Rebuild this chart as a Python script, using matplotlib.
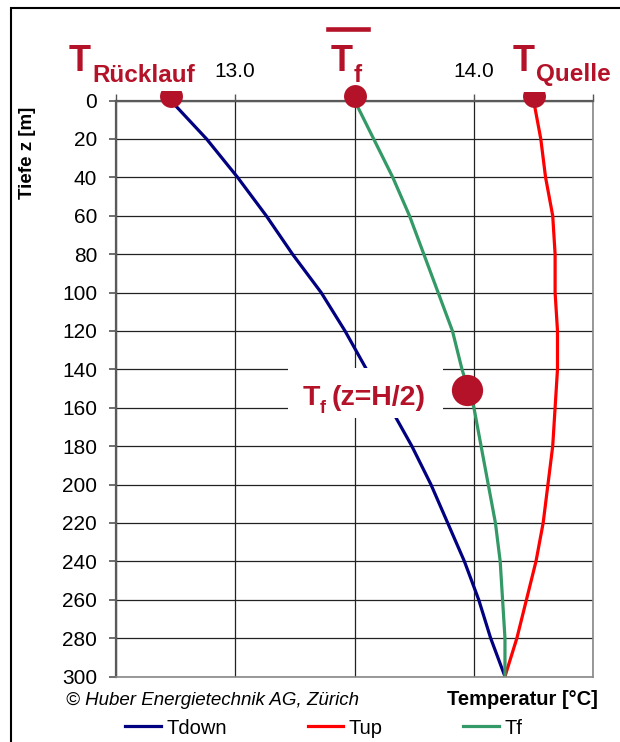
import matplotlib.pyplot as plt
from matplotlib.patches import Rectangle
from matplotlib.lines import Line2D

plt.rcParams['font.family'] = ['Liberation Sans', 'DejaVu Sans']

# depth profile (m) and temperatures (°C)
depth = [0, 20, 40, 60, 80, 100, 120, 140, 160, 180, 200, 220, 240, 260, 280, 300]
t_down = [12.73, 12.88, 13.01, 13.13, 13.24, 13.36, 13.46, 13.55, 13.65, 13.74,
          13.82, 13.89, 13.96, 14.02, 14.07, 14.13]
t_up = [14.25, 14.28, 14.30, 14.33, 14.34, 14.34, 14.35, 14.35, 14.34, 14.33,
        14.31, 14.29, 14.26, 14.22, 14.18, 14.13]
t_f = [13.50, 13.58, 13.66, 13.73, 13.79, 13.85, 13.91, 13.95, 14.00, 14.03,
       14.06, 14.09, 14.11, 14.12, 14.13, 14.13]

# highlighted points
top_t = [12.73, 13.50, 14.25]
top_z = [-2.5, -2.5, -2.5]
mid_t = [13.97]
mid_z = [151]

x_ticks = [12.5, 13.0, 13.5, 14.0, 14.5]
x_ticklabels = ['', '13.0', '', '14.0', '']
y_ticks = list(range(0, 301, 20))

W, H = 620, 742
RED = '#B41228'


def fx(x):
    return x / W


def fy(y):
    return 1 - y / H


fig = plt.figure(figsize=(6.2, 7.42), dpi=100)
ax = fig.add_axes([fx(115.8), fy(676.5), fx(593.3) - fx(115.8), fy(100.5) - fy(676.5)])

ax.plot(t_down, depth, color='#000080', lw=2.3, label='Tdown', zorder=2)
ax.plot(t_up, depth, color='#FF0000', lw=2.3, label='Tup', zorder=2)
ax.plot(t_f, depth, color='#339966', lw=2.3, label='Tf', zorder=2)

ax.plot(top_t, top_z, 'o', color=RED, ms=16.5, mec='none', clip_on=False, zorder=4)
ax.plot(mid_t, mid_z, 'o', color=RED, ms=22.5, mec='none', clip_on=False, zorder=4)

ax.set_xlim(12.5, 14.5)
ax.set_ylim(300, 0)
ax.xaxis.tick_top()
ax.set_xticks(x_ticks)
ax.set_xticklabels(x_ticklabels)
ax.set_yticks(y_ticks)
ax.tick_params(axis='x', length=5, width=1, color='#555555', pad=9, labelsize=15)
ax.tick_params(axis='y', length=5, width=1.2, color='#555555', pad=8.5, labelsize=15)
ax.grid(True, color='#222222', lw=0.9)
ax.set_axisbelow(True)
for side in ['left', 'top']:
    ax.spines[side].set_color('#5a5a5a')
    ax.spines[side].set_linewidth(1.6)
for side in ['right', 'bottom']:
    ax.spines[side].set_color('#888888')
    ax.spines[side].set_linewidth(1.2)

# white label backgrounds (cover grid and marker tops like the original)
ax.add_patch(Rectangle((fx(288), fy(418)), fx(443) - fx(288), fy(368) - fy(418),
                       transform=fig.transFigure, facecolor='white', edgecolor='none',
                       clip_on=False, zorder=3))
ax.add_patch(Rectangle((fx(150), fy(90.7)), fx(196) - fx(150), fy(60) - fy(90.7),
                       transform=fig.transFigure, facecolor='white', edgecolor='none',
                       clip_on=False, zorder=5))
ax.add_patch(Rectangle((fx(512), fy(92.3)), fx(556) - fx(512), fy(60) - fy(92.3),
                       transform=fig.transFigure, facecolor='white', edgecolor='none',
                       clip_on=False, zorder=5))

# annotations
fig.text(fx(69), fy(70.7), 'T', color=RED, fontsize=26, fontweight='bold', va='baseline')
fig.text(fx(92), fy(81.5), 'Rücklauf', color=RED, fontsize=17.5, fontweight='bold', va='baseline')
fig.text(fx(331), fy(70.7), 'T', color=RED, fontsize=26, fontweight='bold', va='baseline')
fig.text(fx(354), fy(81.5), 'f', color=RED, fontsize=17.5, fontweight='bold', va='baseline')
fig.add_artist(Line2D([fx(328), fx(368)], [fy(28.5), fy(28.5)], color=RED, lw=3.3))
fig.text(fx(513), fy(70.7), 'T', color=RED, fontsize=26, fontweight='bold', va='baseline')
fig.text(fx(536), fy(81.5), 'Quelle', color=RED, fontsize=17.5, fontweight='bold', va='baseline')

fig.text(fx(303), fy(405), 'T', color=RED, fontsize=20.5, fontweight='bold', va='baseline')
fig.text(fx(320), fy(413), 'f', color=RED, fontsize=13, fontweight='bold', va='baseline')
fig.text(fx(332), fy(405), '(z=H/2)', color=RED, fontsize=20.5, fontweight='bold', va='baseline')

fig.text(fx(27), fy(153), 'Tiefe z [m]', rotation=90, fontsize=13.5, fontweight='bold',
         ha='center', va='center')
fig.text(fx(66), fy(705), '© Huber Energietechnik AG, Zürich', fontsize=13.5,
         style='italic', va='baseline')
fig.text(fx(598), fy(705), 'Temperatur [°C]', fontsize=14.5, fontweight='bold',
         ha='right', va='baseline')

handles, labels = ax.get_legend_handles_labels()
fig.legend(handles, labels, loc='center', bbox_to_anchor=(fx(324), fy(728)), ncol=3,
           frameon=False, fontsize=14.5, handlelength=1.75, handletextpad=0.3,
           columnspacing=4.0, borderpad=0)

# outer chart frame (right and bottom edges lie outside the picture)
fig.add_artist(Rectangle((fx(10.7), fy(900)), fx(800) - fx(10.7), fy(8.3) - fy(900),
                         transform=fig.transFigure, fill=False, edgecolor='black', lw=1.5))

fig.savefig('out.png', dpi=100)
